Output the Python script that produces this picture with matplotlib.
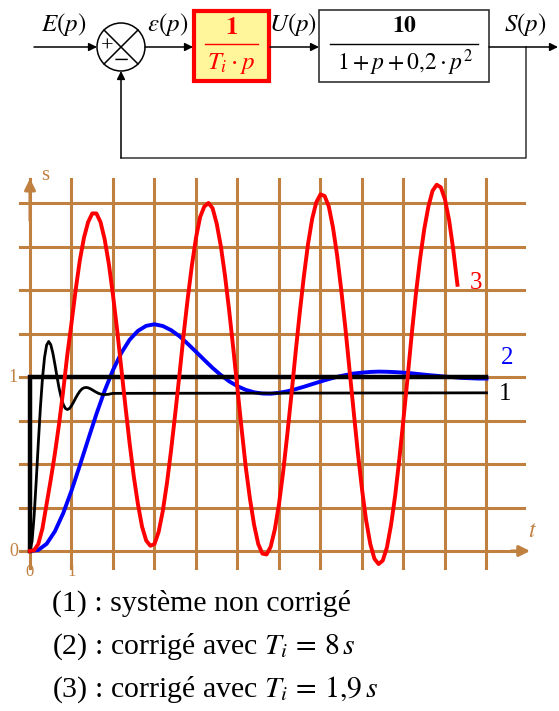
import numpy as np
import matplotlib
matplotlib.use("Agg")
import matplotlib.pyplot as plt
from matplotlib.patches import Circle, Rectangle

plt.rcParams['mathtext.fontset'] = 'stix'
plt.rcParams['font.family'] = ['Liberation Serif', 'DejaVu Serif']

# (1) système non corrigé : pas de 0.05 s jusqu'à 2 s, puis régime établi
s1 = [0.0, 0.057, 0.204, 0.403, 0.619, 0.822, 0.991, 1.112, 1.183, 1.204,
      1.186, 1.138, 1.073, 1.003, 0.937, 0.883, 0.843, 0.820, 0.813, 0.819,
      0.835, 0.856, 0.879, 0.900, 0.918, 0.931, 0.938, 0.940, 0.938, 0.933,
      0.926, 0.919, 0.912, 0.906, 0.902, 0.900, 0.899, 0.900, 0.901, 0.904,
      0.906, 0.909]
t1 = np.append(np.arange(len(s1) - 1) * 0.05, 11.0)

# (2) corrigé avec Ti = 8 s : pas de 0.2 s
s2 = [0.0, 0.006, 0.041, 0.113, 0.217, 0.347, 0.491, 0.640, 0.787, 0.922,
      1.040, 1.138, 1.214, 1.265, 1.294, 1.303, 1.293, 1.269, 1.235, 1.191,
      1.145, 1.098, 1.052, 1.011, 0.975, 0.947, 0.926, 0.912, 0.905, 0.904,
      0.909, 0.918, 0.930, 0.944, 0.959, 0.974, 0.988, 1.001, 1.011, 1.020,
      1.025, 1.029, 1.031, 1.030, 1.028, 1.025, 1.021, 1.016, 1.011, 1.007,
      1.002, 0.999, 0.995, 0.993, 0.991, 0.991]
t2 = np.arange(len(s2)) * 0.2

# (3) corrigé avec Ti = 1,9 s : pas de 0.1 s
s3 = [0.0, 0.005, 0.04, 0.13, 0.27, 0.41, 0.56, 0.73, 0.92, 1.13,
      1.31, 1.50, 1.67, 1.80, 1.89, 1.94, 1.94, 1.89, 1.79, 1.65,
      1.47, 1.27, 1.05, 0.83, 0.62, 0.43, 0.27, 0.14, 0.06, 0.03,
      0.04, 0.11, 0.23, 0.39, 0.58, 0.79, 1.01, 1.24, 1.45, 1.64,
      1.80, 1.92, 1.98, 2.00, 1.97, 1.88, 1.75, 1.58, 1.38, 1.16,
      0.93, 0.70, 0.48, 0.30, 0.15, 0.04, -0.015, -0.02, 0.025, 0.125,
      0.27, 0.455, 0.67, 0.90, 1.14, 1.37, 1.58, 1.765, 1.91, 2.005,
      2.05, 2.04, 1.98, 1.86, 1.70, 1.50, 1.28, 1.04, 0.80, 0.565,
      0.355, 0.175, 0.04, -0.045, -0.075, -0.055, 0.02, 0.15, 0.32, 0.53,
      0.76, 1.0, 1.25, 1.48, 1.68, 1.85, 1.98, 2.07, 2.105, 2.09,
      2.02, 1.90, 1.73, 1.53]
t3 = np.arange(len(s3)) * 0.1

# échelon d'entrée
t_step = [0, 0, 11]
e_step = [0, 1, 1]

x_grid = np.arange(0, 12)
y_grid = np.arange(0, 2.01, 0.25)

brown = '#BF8040'

fig = plt.figure(figsize=(5.59, 7.11), dpi=100)

# calque en pixels pour le schéma-bloc et la légende
ax0 = fig.add_axes([0, 0, 1, 1])
ax0.set_xlim(0, 559)
ax0.set_ylim(711, 0)
ax0.axis('off')

# repère du graphe
W, H = 559, 711
x_lo, x_hi = -0.5, 12.2
y_lo, y_hi = -0.2, 2.25
px0, pxs = 30, 41.5
py0, pys = 551, 174
left = (px0 + x_lo * pxs) / W
right = (px0 + x_hi * pxs) / W
bottom = (H - (py0 - y_lo * pys)) / H
top = (H - (py0 - y_hi * pys)) / H
ax = fig.add_axes([left, bottom, right - left, top - bottom])
ax.set_xlim(x_lo, x_hi)
ax.set_ylim(y_lo, y_hi)
ax.axis('off')
ax.patch.set_alpha(0)

# quadrillage
for xv in x_grid:
    ax.plot([xv, xv], [-0.1, 2.14], color=brown, lw=2.2, zorder=1)
for yv in y_grid:
    ax.plot([-0.24, 11.9], [yv, yv], color=brown, lw=2.2, zorder=1)

# axes avec flèches
ax.annotate('', xy=(12.05, 0), xytext=(11.6, 0),
            arrowprops=dict(arrowstyle='-|>', color=brown, lw=2.2,
                            mutation_scale=16, shrinkA=0, shrinkB=0))
ax.annotate('', xy=(0, 2.14), xytext=(0, 1.9),
            arrowprops=dict(arrowstyle='-|>', color=brown, lw=2.2,
                            mutation_scale=16, shrinkA=0, shrinkB=0))
ax.text(0.36, 2.16, 's', color=brown, fontsize=15, ha='center', va='center')
ax.text(12.1, 0.11, '$t$', color=brown, fontsize=17, ha='center', va='center')
ax.text(-0.4, 1, '1', color=brown, fontsize=13, ha='center', va='center')
ax.text(-0.4, 0, '0', color=brown, fontsize=13, ha='center', va='center')
ax.text(0, -0.12, '0', color=brown, fontsize=12, ha='center', va='center',
        zorder=7)
ax.text(1, -0.12, '1', color=brown, fontsize=12, ha='center', va='center',
        zorder=7)

# courbes
ax.plot(t2, s2, color='#0000FF', lw=2.8, zorder=3)
ax.plot(t_step, e_step, color='black', lw=3.2, zorder=4, solid_joinstyle='miter')
ax.plot(t1, s1, color='black', lw=2.0, zorder=5)
ax.plot(t3, s3, color='#FF0000', lw=2.8, zorder=6)

ax.text(10.75, 1.54, '3', color='#FF0000', fontsize=18, ha='center', va='center')
ax.text(11.5, 1.11, '2', color='#0000FF', fontsize=18, ha='center', va='center')
ax.text(11.45, 0.9, '1', color='black', fontsize=18, ha='center', va='center')

# schéma-bloc
lw_d = 1.1
arrow = dict(arrowstyle='-|>', color='black', lw=lw_d, mutation_scale=12,
             shrinkA=0, shrinkB=0)
yc = 47
ax0.annotate('', xy=(97, yc), xytext=(34, yc), arrowprops=arrow)
ax0.add_patch(Circle((121, yc), 24, fill=False, lw=lw_d, color='black'))
d = 17
ax0.plot([121 - d, 121 + d], [yc - d, yc + d], color='black', lw=lw_d)
ax0.plot([121 - d, 121 + d], [yc + d, yc - d], color='black', lw=lw_d)
ax0.text(107, yc, '+', fontsize=16, ha='center', va='center')
ax0.text(121, yc + 12, '$-$', fontsize=16, ha='center', va='center')
ax0.annotate('', xy=(193, yc), xytext=(145, yc), arrowprops=arrow)
ax0.add_patch(Rectangle((194, 11), 75, 70, facecolor='#FFF59A',
                        edgecolor='#FF0000', lw=3))
ax0.text(231, 28, '$\\mathbf{1}$', color='#FF0000', fontsize=18,
         ha='center', va='center')
ax0.plot([205, 258], [44, 44], color='#FF0000', lw=1.0)
ax0.text(231, 63, '$T_i\\cdot p$', color='#FF0000', fontsize=18,
         ha='center', va='center')
ax0.annotate('', xy=(319, yc), xytext=(270, yc), arrowprops=arrow)
ax0.add_patch(Rectangle((319, 10), 170, 72, fill=False, edgecolor='#222222',
                        lw=1.1))
ax0.text(405, 27, '$\\mathbf{10}$', fontsize=17, ha='center', va='center')
ax0.plot([330, 478], [44, 44], color='black', lw=1.0)
ax0.text(405, 63, '$1+p+0{,}2\\cdot p^2$', fontsize=17,
         ha='center', va='center')
ax0.annotate('', xy=(558, yc), xytext=(489, yc), arrowprops=arrow)
ax0.plot([526, 526, 121], [yc, 158, 158], color='#333333', lw=lw_d)
ax0.annotate('', xy=(121, 71), xytext=(121, 158), arrowprops=arrow)

ax0.text(64, 25, '$E(p)$', fontsize=18, ha='center', va='center')
ax0.text(168, 25, '$\\epsilon(p)$', fontsize=18, ha='center', va='center')
ax0.text(293, 25, '$U(p)$', fontsize=18, ha='center', va='center')
ax0.text(525, 25, '$S(p)$', fontsize=18, ha='center', va='center')

# légende
ax0.text(52, 603, '(1) : système non corrigé', fontsize=21.5, va='center')
ax0.text(52, 647, '(2) : corrigé avec $T_i\\,=\\,8\\,s$', fontsize=21.5, va='center')
ax0.text(52, 690, '(3) : corrigé avec $T_i\\,=\\,1{,}9\\,s$', fontsize=21.5, va='center')

fig.savefig('out.png', dpi=100)
